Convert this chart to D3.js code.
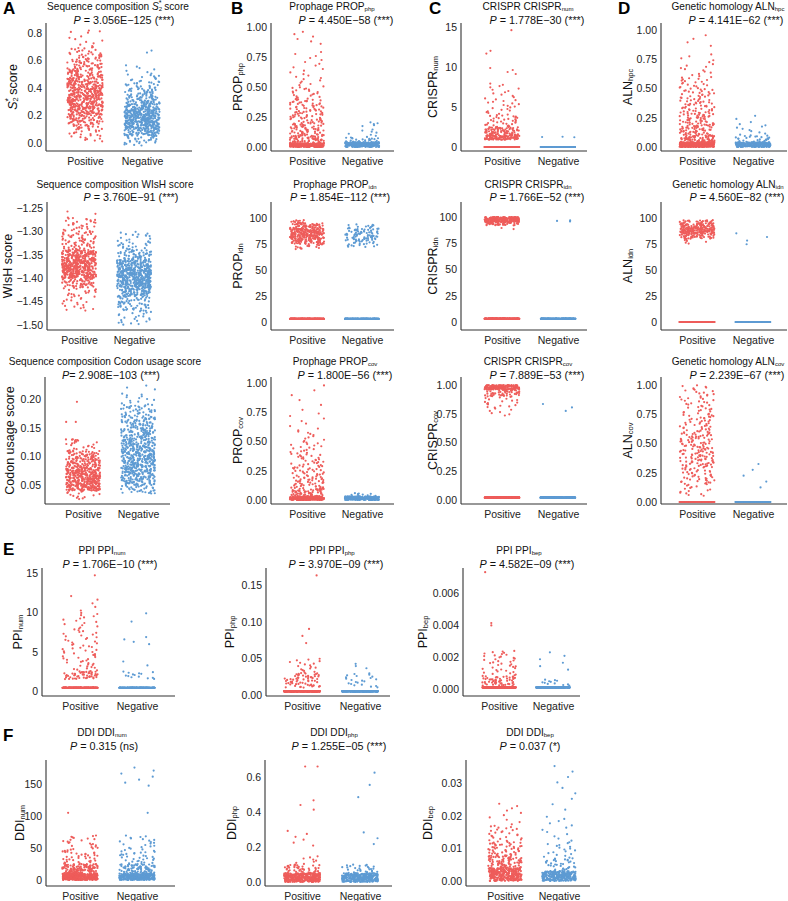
<!DOCTYPE html>
<html>
<head>
<meta charset="utf-8">
<script src="https://cdn.jsdelivr.net/npm/d3@7"></script>
<style>
body { margin: 0; background: #fff; }
svg { font-family: "Liberation Sans", Arial, sans-serif; }
</style>
</head>
<body>
<div id="chart"></div>
<script>

// each entry: [low, high, count]; low == high is a flat row of points
var s2Pos = [[0.01,0.05,8],[0.05,0.10,15],[0.10,0.15,30],[0.15,0.20,50],[0.20,0.25,70],[0.25,0.30,80],[0.30,0.35,85],[0.35,0.40,80],[0.40,0.45,72],[0.45,0.50,55],[0.50,0.55,42],[0.55,0.60,33],[0.60,0.65,24],[0.65,0.70,14],[0.70,0.78,8],[0.80,0.82,4]];
var s2Neg = [[-0.02,0.0,5],[0.0,0.05,24],[0.05,0.10,68],[0.10,0.15,105],[0.15,0.20,125],[0.20,0.25,110],[0.25,0.30,72],[0.30,0.35,45],[0.35,0.40,30],[0.40,0.45,20],[0.45,0.50,11],[0.50,0.57,7],[0.65,0.68,2]];
var wishPos = [[-1.47,-1.44,18],[-1.44,-1.42,18],[-1.42,-1.40,55],[-1.40,-1.38,145],[-1.38,-1.36,165],[-1.36,-1.34,120],[-1.34,-1.32,35],[-1.32,-1.30,32],[-1.30,-1.27,30],[-1.265,-1.255,2]];
var wishNeg = [[-1.50,-1.47,22],[-1.47,-1.44,55],[-1.44,-1.42,85],[-1.42,-1.40,155],[-1.40,-1.38,175],[-1.38,-1.36,115],[-1.36,-1.34,52],[-1.34,-1.32,22],[-1.32,-1.30,11],[-1.31,-1.305,3]];
var codonPos = [[0.025,0.04,14],[0.04,0.06,170],[0.06,0.08,180],[0.08,0.10,100],[0.10,0.11,35],[0.11,0.13,20],[0.128,0.13,3],[0.16,0.16,2],[0.195,0.195,1]];
var codonNeg = [[0.035,0.05,35],[0.05,0.07,95],[0.07,0.09,120],[0.09,0.11,125],[0.11,0.13,105],[0.13,0.15,82],[0.15,0.17,62],[0.17,0.19,40],[0.19,0.21,13],[0.215,0.225,3]];

var propPhpPos = [[0.0,0.03,300],[0.03,0.10,70],[0.10,0.20,60],[0.20,0.30,45],[0.30,0.40,38],[0.40,0.50,20],[0.50,0.60,10],[0.60,0.70,7],[0.70,0.80,6],[0.85,0.97,6]];
var propPhpNeg = [[0.0,0.04,250],[0.04,0.08,20],[0.08,0.15,8],[0.17,0.21,5]];
var propIdnPos = [[3,3,250],[70,75,15],[75,80,60],[80,85,100],[85,90,100],[90,95,50],[95,98,12]];
var propIdnNeg = [[3,3,200],[72,78,20],[78,84,40],[84,90,36],[90,94,12]];
var propCovPos = [[0.0,0.03,300],[0.03,0.10,60],[0.10,0.20,45],[0.20,0.30,32],[0.30,0.40,24],[0.40,0.50,16],[0.50,0.60,10],[0.60,0.75,7],[0.75,1.0,6]];
var propCovNeg = [[0.0,0.03,250],[0.03,0.06,10]];

var crNumPos = [[0,0,400],[0.9,1.5,100],[1.5,2.5,75],[2.5,4,32],[4,6,20],[6,8,13],[9,10,4],[11.5,12.2,2],[14.6,14.6,1]];
var crNumNeg = [[0,0,300],[1.2,1.3,3]];
var crIdnPos = [[3,3,400],[92,95,35],[95,98,120],[98,100,100],[88,90,2]];
var crIdnNeg = [[3,3,300],[95.5,97,3]];
var crCovPos = [[0.02,0.02,400],[0.96,1.0,160],[0.90,0.96,50],[0.80,0.90,18],[0.73,0.80,7]];
var crCovNeg = [[0.02,0.02,300],[0.76,0.85,3]];

var alnHpcPos = [[0.0,0.04,400],[0.04,0.10,70],[0.10,0.20,65],[0.20,0.30,48],[0.30,0.40,36],[0.40,0.50,28],[0.50,0.60,20],[0.60,0.70,10],[0.70,0.80,6],[0.85,0.97,4]];
var alnHpcNeg = [[0.0,0.04,250],[0.04,0.10,25],[0.10,0.20,10],[0.20,0.28,3]];
var alnIdnPos = [[0,0,400],[75,80,6],[80,85,50],[85,90,120],[90,95,80],[95,98,25]];
var alnIdnNeg = [[0,0,300],[73,87,4]];
var alnCovPos = [[0,0,300],[0.05,0.15,15],[0.15,0.30,45],[0.30,0.45,65],[0.45,0.60,60],[0.60,0.75,40],[0.75,0.90,28],[0.90,1.0,16]];
var alnCovNeg = [[0,0,300],[0.10,0.35,5]];

var ppiNumPos = [[0.4,0.4,300],[1.5,2.5,50],[2.5,4,18],[4,6,22],[6,8,18],[8,10,14],[10,12.3,5],[14.7,14.7,1]];
var ppiNumNeg = [[0.4,0.4,250],[1.5,2.5,14],[3,4,2],[5.8,7,4],[8.3,10.4,2]];
var ppiPhpPos = [[0.005,0.005,300],[0.01,0.03,65],[0.03,0.05,18],[0.066,0.095,3],[0.163,0.163,1]];
var ppiPhpNeg = [[0.005,0.005,250],[0.01,0.03,22],[0.035,0.044,3]];
var ppiBepPos = [[0.0001,0.0001,300],[0.0002,0.0008,55],[0.0008,0.0024,40],[0.0039,0.0042,2],[0.0073,0.0073,1]];
var ppiBepNeg = [[0.0001,0.0001,250],[0.0002,0.0006,12],[0.0011,0.0024,6]];

var ddiNumPos = [[0,10,350],[10,25,120],[25,45,35],[45,70,26],[105,105,1]];
var ddiNumNeg = [[0,10,300],[10,25,85],[25,45,30],[45,70,22],[105,105,1],[145,178,7]];
var ddiPhpPos = [[0,0.05,320],[0.05,0.10,45],[0.10,0.15,8],[0.20,0.30,6],[0.40,0.48,3],[0.66,0.66,2]];
var ddiPhpNeg = [[0,0.05,280],[0.05,0.10,28],[0.20,0.30,3],[0.45,0.66,3]];
var ddiBepPos = [[0,0.004,280],[0.004,0.008,90],[0.008,0.012,45],[0.012,0.017,26],[0.017,0.024,10]];
var ddiBepNeg = [[0,0.003,240],[0.003,0.007,36],[0.007,0.012,18],[0.012,0.020,12],[0.021,0.036,9]];

var categories = ["Positive", "Negative"];

var titles = [
	"Sequence composition |S|_{2}^{*} score", "Prophage PROP_{php}", "CRISPR CRISPR_{num}", "Genetic homology ALN_{hpc}",
	"Sequence composition WIsH score", "Prophage PROP_{idn}", "CRISPR CRISPR_{idn}", "Genetic homology ALN_{idn}",
	"Sequence composition Codon usage score", "Prophage PROP_{cov}", "CRISPR CRISPR_{cov}", "Genetic homology ALN_{cov}",
	"PPI PPI_{num}", "PPI PPI_{php}", "PPI PPI_{bep}",
	"DDI DDI_{num}", "DDI DDI_{php}", "DDI DDI_{bep}"];

var pvals = [
	"|P| = 3.056E\u2212125 (***)", "|P| = 4.450E\u221258 (***)", "|P| = 1.778E\u221230 (***)", "|P| = 4.141E\u221262 (***)",
	"|P| = 3.760E\u221291 (***)", "|P| = 1.854E\u2212112 (***)", "|P| = 1.766E\u221252 (***)", "|P| = 4.560E\u221282 (***)",
	"|P|= 2.908E\u2212103 (***)", "|P| = 1.800E\u221256 (***)", "|P| = 7.889E\u221253 (***)", "|P| = 2.239E\u221267 (***)",
	"|P| = 1.706E\u221210 (***)", "|P| = 3.970E\u221209 (***)", "|P| = 4.582E\u221209 (***)",
	"|P| = 0.315 (ns)", "|P| = 1.255E\u221205 (***)", "|P| = 0.037 (*)"];

var yLabels = [
	"|S|_{2}^{*} score", "PROP_{php}", "CRISPR_{num}", "ALN_{hpc}",
	"WIsH score", "PROP_{idn}", "CRISPR_{idn}", "ALN_{idn}",
	"Codon usage score", "PROP_{cov}", "CRISPR_{cov}", "ALN_{cov}",
	"PPI_{num}", "PPI_{php}", "PPI_{bep}",
	"DDI_{num}", "DDI_{php}", "DDI_{bep}"];

var unit = [0, 0.25, 0.5, 0.75, 1];
var pct = [0, 25, 50, 75, 100];
var yTicks = [
	[0, 0.2, 0.4, 0.6, 0.8], unit, [0, 5, 10, 15], unit,
	[-1.5, -1.45, -1.4, -1.35, -1.3, -1.25], pct, pct, pct,
	[0.05, 0.1, 0.15, 0.2], unit, unit, unit,
	[0, 5, 10, 15], [0, 0.05, 0.1, 0.15], [0, 0.002, 0.004, 0.006],
	[0, 50, 100, 150], [0, 0.2, 0.4, 0.6], [0, 0.01, 0.02, 0.03]];
var tickFmt = [".1f", ".2f", "d", ".2f", ".2f", "d", "d", "d", ".2f", ".2f", ".2f", ".2f", "d", ".2f", ".3f", "d", ".1f", ".2f"];

var series = [
	[s2Pos, s2Neg], [propPhpPos, propPhpNeg], [crNumPos, crNumNeg], [alnHpcPos, alnHpcNeg],
	[wishPos, wishNeg], [propIdnPos, propIdnNeg], [crIdnPos, crIdnNeg], [alnIdnPos, alnIdnNeg],
	[codonPos, codonNeg], [propCovPos, propCovNeg], [crCovPos, crCovNeg], [alnCovPos, alnCovNeg],
	[ppiNumPos, ppiNumNeg], [ppiPhpPos, ppiPhpNeg], [ppiBepPos, ppiBepNeg],
	[ddiNumPos, ddiNumNeg], [ddiPhpPos, ddiPhpNeg], [ddiBepPos, ddiBepNeg]];

// geometry: x0, x1, cxPos, cxNeg, top, bottom, px of first tick, px of last tick, titleX, pX, titleY, pY, ylabX
var geo = [
	[46,192,85,142, 23,151,143,33, 118,124,10,24, 13],
	[271,394,307,362, 23,151,147,27, 332,346,10,24, 238],
	[461,587,502,558, 23,151,147,27, 528,537,10,24, 433],
	[661,787,697,753, 23,151,147,30, 728,736,10,24, 628],
	[47,190,79,134, 202,330,325,208, 115,131,188,201, 8],
	[271,394,307,362, 202,330,322,218, 335,340,188,201, 238],
	[461,587,502,558, 202,330,322,217, 528,537,188,201, 433],
	[661,787,697,753, 202,330,322,218, 728,737,188,201, 628],
	[45,170,83,138, 377,504,485,399, 105,111,365,379, 10],
	[271,394,307,362, 377,504,500,383, 335,345,365,379, 238],
	[461,587,502,558, 377,504,500,385, 528,537,365,379, 433],
	[661,787,697,753, 377,504,502,385, 728,737,365,379, 628],
	[42,175,80,137, 568,696,691,573, 102,110,554,568, 18],
	[266,390,302,360, 568,696,695,585, 332,336,554,568, 230],
	[463,580,499,553, 568,696,689,593, 519,527,554,568, 423],
	[46,175,80,137, 760,886,880,784, 102,104,736,750, 20],
	[265,392,302,360, 760,886,882,777, 334,339,736,750, 232],
	[466,590,505,559, 760,886,881,783, 530,530,736,750, 428]];

var letters = [["A",3,14],["B",231,14],["C",429,14],["D",618,14],["E",3,555],["F",3,741]];

var colors = ["#EE5D5B", "#5E9BD3"];
var axisColor = "#333";


var svg = d3.select("#chart").append("svg")
	.attr("width", 788)
	.attr("height", 901);


// text with _{sub}, ^{sup} and |italic| parts
function richText(sel, str, fs) {
	var parts = str.split(/(_\{[^}]*\}|\^\{[^}]*\}|\|[^|]*\|)/).filter(function(s) { return s.length; });
	var shift = 0;
	parts.forEach(function(tok) {
		var t = sel.append("tspan");
		var target = 0, txt = tok;
		if (tok[0] == "_") {
			txt = tok.slice(2, -1);
			target = fs * 0.08;
			t.style("font-size", (fs * 0.6) + "px");
		} else if (tok[0] == "^") {
			txt = tok.slice(2, -1);
			target = -fs * 0.45;
			t.style("font-size", (fs * 0.7) + "px").attr("dx", -fs * 0.34);
		} else if (tok[0] == "|") {
			txt = tok.slice(1, -1);
			t.style("font-style", "italic");
		}
		t.attr("dy", target - shift).text(txt);
		shift = target;
	});
}


function expand(entries) {
	var vals = [];
	entries.forEach(function(e) {
		var lo = e[0], hi = e[1], n = e[2];
		for (var i = 0; i < n; i++) vals.push(lo + (hi - lo) * (i + 0.5) / n);
	});
	return vals;
}


function drawPanel(i) {
	var g = geo[i];
	var ticks = yTicks[i];
	var y = d3.scaleLinear()
		.domain([ticks[0], ticks[ticks.length - 1]])
		.range([g[6], g[7]]);
	var x = d3.scalePoint()
		.domain(categories)
		.range([g[2], g[3]]);
	var jw = (g[3] - g[2]) * 0.31;

	var panel = svg.append("g").attr("class", "panel");

	// points, jittered sideways like geom_jitter (fixed seed)
	series[i].forEach(function(grp, k) {
		var vals = expand(grp);
		var jit = d3.randomUniform.source(d3.randomLcg(0.11 + i * 0.037 + k * 0.5))(-jw, jw);
		panel.append("g").selectAll("circle")
			.data(vals)
			.enter()
			.append("circle")
			.attr("cx", function(d) { return x(categories[k]) + jit(); })
			.attr("cy", function(d) { return y(d); })
			.attr("r", 1.1)
			.attr("fill", colors[k]);
	});

	// axes
	var yAxis = d3.axisLeft(y)
		.tickValues(ticks)
		.tickSize(0)
		.tickPadding(4)
		.tickFormat(d3.format(tickFmt[i]));
	var ya = panel.append("g")
		.attr("transform", "translate(" + g[0] + ",0)")
		.call(yAxis);
	ya.select(".domain").remove();
	ya.selectAll("text").style("font-size", "10.5px").attr("fill", "#222");

	var xAxis = d3.axisBottom(x).tickSize(0).tickPadding(7);
	var xa = panel.append("g")
		.attr("transform", "translate(0," + g[5] + ")")
		.call(xAxis);
	xa.select(".domain").remove();
	xa.selectAll("text").style("font-size", "10.5px").attr("fill", "#222");

	panel.append("line")
		.attr("x1", g[0]).attr("x2", g[0])
		.attr("y1", g[4]).attr("y2", g[5])
		.attr("stroke", axisColor).attr("stroke-width", 1.1);
	panel.append("line")
		.attr("x1", g[0]).attr("x2", g[1])
		.attr("y1", g[5]).attr("y2", g[5])
		.attr("stroke", axisColor).attr("stroke-width", 1.1);

	// titles
	var t1 = panel.append("text")
		.attr("x", g[8]).attr("y", g[10])
		.attr("text-anchor", "middle")
		.style("font-size", "10.1px")
		.attr("fill", "#111");
	richText(t1, titles[i], 10.1);
	var t2 = panel.append("text")
		.attr("x", g[9]).attr("y", g[11])
		.attr("text-anchor", "middle")
		.style("font-size", "10.8px")
		.attr("fill", "#111");
	richText(t2, pvals[i], 10.8);

	var yl = panel.append("text")
		.attr("transform", "translate(" + (g[12] + 4) + "," + ((g[4] + g[5]) / 2) + ") rotate(-90)")
		.attr("text-anchor", "middle")
		.style("font-size", "12.5px")
		.attr("fill", "#111");
	richText(yl, yLabels[i], 12.5);
}


for (var i = 0; i < geo.length; i++) drawPanel(i);

svg.selectAll(".letter")
	.data(letters)
	.enter()
	.append("text")
	.attr("class", "letter")
	.attr("x", function(d) { return d[1]; })
	.attr("y", function(d) { return d[2]; })
	.style("font-size", "17px")
	.style("font-weight", "bold")
	.text(function(d) { return d[0]; });

</script>
</body>
</html>
